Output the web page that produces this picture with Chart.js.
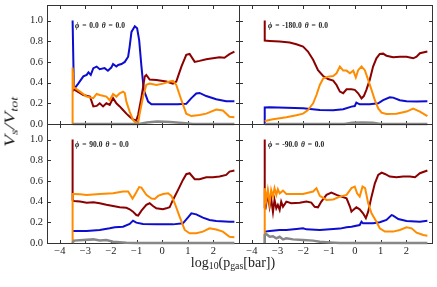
<!DOCTYPE html>
<html>
<head>
<meta charset="utf-8">
<script src="https://cdn.jsdelivr.net/npm/chart.js@4.4.1/dist/chart.umd.min.js"></script>
<style>
  body { margin: 0; background: #fff; }
  #wrap { position: relative; width: 437px; height: 287px; overflow: hidden; font-family: "Liberation Serif", serif; color: #222; }
  canvas { position: absolute; left: 0; top: 0; }
  .ann { position: absolute; font-size: 7.5px; font-weight: bold; line-height: 1; white-space: nowrap; word-spacing: 1px; }
  #xlab { position: absolute; left: 133px; width: 200px; top: 256px; text-align: center; font-size: 14px; line-height: 1; }
  #ylab { position: absolute; left: -40px; width: 100px; top: 111px; height: 22px; text-align: center; font-size: 20px; font-style: italic; line-height: 22px; transform: rotate(-90deg) scale(1, 0.68); }
  sub { font-size: 70%; vertical-align: -0.25em; line-height: 0; }
</style>
</head>
<body>
<div id="wrap">
  <canvas id="c0" width="437" height="287"></canvas>
  <canvas id="c1" width="437" height="287"></canvas>
  <canvas id="c2" width="437" height="287"></canvas>
  <canvas id="c3" width="437" height="287"></canvas>
  <div id="xlab">log<sub>10</sub>(p<sub>gas</sub>[bar])</div>
  <div id="ylab">V<sub>s</sub>/V<sub>tot</sub></div>
</div>
<script>
// panel labels
const phiLabels = ["0.0", "-180.0", "90.0", "-90.0"];
const thetaLabels = ["0.0", "0.0", "0.0", "0.0"];

// ticks
const xTicks = [-4, -3, -2, -1, 0, 1, 2];
const yTicks = [0, 0.2, 0.4, 0.6, 0.8, 1.0];

// top left: phi = 0
const tlBlueX = [-3.5, -3.45, -3.28, -3.08, -2.95, -2.88, -2.79, -2.69, -2.56, -2.44, -2.25, -2.12, -1.99, -1.92, -1.79, -1.72, -1.59, -1.46, -1.33, -1.27, -1.2, -1.07, -0.98, -0.9, -0.81, -0.72, -0.55, -0.42, 0.03, 0.6, 0.94, 1.14, 1.33, 1.46, 1.72, 2.11, 2.5, 2.82];
const tlBlueY = [1.0, 0.335, 0.39, 0.46, 0.475, 0.5, 0.475, 0.54, 0.555, 0.53, 0.54, 0.515, 0.545, 0.58, 0.555, 0.57, 0.58, 0.6, 0.65, 0.75, 0.89, 0.945, 0.925, 0.81, 0.555, 0.33, 0.216, 0.19, 0.19, 0.19, 0.195, 0.25, 0.295, 0.3, 0.27, 0.24, 0.22, 0.22];
const tlRedX = [-3.5, -3.45, -3.08, -2.82, -2.69, -2.56, -2.44, -2.31, -2.18, -2.05, -1.92, -1.79, -1.66, -1.53, -1.4, -1.27, -1.14, -1.01, -0.94, -0.81, -0.68, -0.62, -0.49, -0.23, 0.16, 0.42, 0.55, 0.75, 0.94, 1.07, 1.27, 1.46, 1.72, 1.98, 2.24, 2.43, 2.63, 2.82];
const tlRedY = [0.34, 0.335, 0.28, 0.265, 0.17, 0.175, 0.2, 0.17, 0.2, 0.185, 0.25, 0.2, 0.17, 0.135, 0.1, 0.07, 0.045, 0.035, 0.09, 0.26, 0.46, 0.474, 0.43, 0.425, 0.41, 0.39, 0.41, 0.555, 0.668, 0.677, 0.6, 0.61, 0.626, 0.635, 0.645, 0.64, 0.675, 0.7];
const tlOrangeX = [-3.5, -3.5, -3.45, -3.21, -2.95, -2.69, -2.56, -2.44, -2.18, -2.05, -1.92, -1.79, -1.66, -1.53, -1.46, -1.4, -1.27, -1.14, -1.01, -0.94, -0.88, -0.75, -0.62, -0.49, -0.23, 0.03, 0.29, 0.42, 0.55, 0.75, 0.94, 1.14, 1.46, 1.72, 2.11, 2.37, 2.63, 2.82];
const tlOrangeY = [0, 0.545, 0.355, 0.313, 0.265, 0.25, 0.29, 0.28, 0.265, 0.23, 0.29, 0.265, 0.297, 0.313, 0.3, 0.216, 0.12, 0.04, 0.006, 0.01, 0.1, 0.26, 0.38, 0.39, 0.377, 0.39, 0.41, 0.416, 0.377, 0.23, 0.1, 0.077, 0.087, 0.1, 0.14, 0.13, 0.07, 0.065];
const tlGrayX = [-3.5, -0.9, -0.6, -0.2, 0.3, 0.8, 1.2, 2.82];
const tlGrayY = [0, 0, 0.015, 0.025, 0.02, 0.01, 0, 0];

// top right: phi = -180
const trBlueX = [-3.5, -3.5, -3.31, -2.66, -2.01, -1.36, -0.84, -0.45, -0.13, 0.0, 0.06, 0.19, 0.58, 0.91, 1.1, 1.36, 1.49, 1.75, 2.01, 2.4, 2.82];
const trBlueY = [0, 0.16, 0.161, 0.158, 0.152, 0.135, 0.132, 0.142, 0.168, 0.174, 0.206, 0.19, 0.19, 0.2, 0.23, 0.258, 0.255, 0.23, 0.22, 0.218, 0.22];
const trRedX = [-3.5, -3.5, -3.31, -2.92, -2.53, -2.27, -2.01, -1.82, -1.62, -1.43, -1.23, -1.04, -0.84, -0.71, -0.58, -0.45, -0.32, -0.13, 0.0, 0.13, 0.26, 0.35, 0.45, 0.58, 0.71, 0.84, 0.97, 1.1, 1.23, 1.49, 1.75, 2.01, 2.27, 2.4, 2.53, 2.82];
const trRedY = [1.0, 0.806, 0.803, 0.797, 0.787, 0.77, 0.748, 0.7, 0.62, 0.52, 0.464, 0.435, 0.42, 0.377, 0.313, 0.297, 0.335, 0.335, 0.33, 0.297, 0.248, 0.27, 0.33, 0.426, 0.555, 0.635, 0.677, 0.68, 0.66, 0.645, 0.65, 0.65, 0.635, 0.65, 0.684, 0.7];
const trOrangeX = [-3.5, -3.18, -2.66, -2.27, -2.01, -1.82, -1.62, -1.49, -1.36, -1.23, -1.04, -0.84, -0.71, -0.58, -0.45, -0.32, -0.19, -0.06, 0.04, 0.13, 0.26, 0.39, 0.52, 0.65, 0.78, 0.91, 1.04, 1.23, 1.62, 2.01, 2.27, 2.53, 2.82];
const trOrangeY = [0.03, 0.045, 0.065, 0.084, 0.1, 0.135, 0.2, 0.28, 0.377, 0.44, 0.458, 0.464, 0.49, 0.555, 0.516, 0.516, 0.49, 0.516, 0.45, 0.52, 0.555, 0.52, 0.426, 0.33, 0.23, 0.15, 0.11, 0.097, 0.1, 0.12, 0.148, 0.12, 0.077];
const trGrayX = [-3.5, -0.4, -0.1, 0.3, 0.7, 1.0, 2.82];
const trGrayY = [0, 0, 0.012, 0.015, 0.012, 0, 0];

// bottom left: phi = 90
const blBlueX = [-3.5, -2.95, -2.44, -2.05, -1.85, -1.53, -1.27, -1.14, -1.01, -0.75, -0.23, 0.42, 0.81, 1.01, 1.14, 1.33, 1.59, 1.85, 2.11, 2.63, 2.82];
const blBlueY = [0.116, 0.116, 0.126, 0.142, 0.152, 0.158, 0.184, 0.216, 0.197, 0.184, 0.18, 0.18, 0.19, 0.248, 0.287, 0.277, 0.245, 0.223, 0.213, 0.206, 0.205];
const blRedX = [-3.5, -3.5, -3.45, -3.21, -2.95, -2.69, -2.44, -2.18, -1.92, -1.66, -1.4, -1.27, -1.14, -1.01, -0.94, -0.81, -0.62, -0.49, -0.36, -0.23, 0.03, 0.16, 0.29, 0.42, 0.62, 0.81, 0.94, 1.07, 1.27, 1.46, 1.72, 1.98, 2.24, 2.5, 2.63, 2.82];
const blRedY = [1.0, 0.416, 0.406, 0.4, 0.39, 0.393, 0.384, 0.37, 0.358, 0.345, 0.34, 0.326, 0.303, 0.27, 0.265, 0.313, 0.368, 0.384, 0.358, 0.335, 0.326, 0.335, 0.345, 0.416, 0.513, 0.61, 0.665, 0.674, 0.616, 0.616, 0.635, 0.635, 0.642, 0.658, 0.69, 0.7];
const blOrangeX = [-3.5, -3.5, -3.45, -3.21, -2.95, -2.44, -1.92, -1.53, -1.33, -1.16, -1.07, -0.9, -0.81, -0.62, -0.42, -0.29, -0.16, 0.03, 0.23, 0.36, 0.49, 0.68, 0.88, 1.07, 1.33, 1.59, 1.85, 2.11, 2.37, 2.63, 2.82];
const blOrangeY = [0, 0.474, 0.474, 0.47, 0.465, 0.474, 0.48, 0.497, 0.497, 0.43, 0.465, 0.54, 0.535, 0.465, 0.43, 0.426, 0.455, 0.474, 0.48, 0.455, 0.384, 0.255, 0.126, 0.094, 0.094, 0.11, 0.142, 0.13, 0.11, 0.06, 0.055];
const blGrayX = [-3.5, -3.45, -3.08, -2.69, -2.44, -2.18, -1.92, -1.4, -1.0, 2.82];
const blGrayY = [0, 0.023, 0.03, 0.035, 0.025, 0.028, 0.013, 0.003, 0, 0];

// bottom right: phi = -90
const brBlueX = [-3.5, -3.31, -2.92, -2.66, -2.27, -2.01, -1.88, -1.36, -0.97, -0.58, -0.32, -0.13, 0.19, 0.26, 0.32, 0.71, 0.97, 1.23, 1.43, 1.49, 1.69, 2.01, 2.53, 2.82];
const brBlueY = [0.11, 0.116, 0.126, 0.126, 0.135, 0.142, 0.132, 0.126, 0.132, 0.139, 0.152, 0.158, 0.174, 0.206, 0.19, 0.19, 0.2, 0.223, 0.27, 0.265, 0.232, 0.213, 0.206, 0.216];
const brRedX = [-3.5, -3.5, -3.47, -3.38, -3.31, -3.25, -3.18, -3.12, -3.05, -2.99, -2.92, -2.86, -2.79, -2.66, -2.47, -2.14, -1.88, -1.69, -1.56, -1.43, -1.3, -1.1, -0.91, -0.71, -0.52, -0.32, -0.19, -0.13, -0.06, 0.06, 0.19, 0.32, 0.43, 0.52, 0.65, 0.78, 0.91, 1.04, 1.17, 1.36, 1.62, 1.88, 2.14, 2.34, 2.53, 2.82];
const brRedY = [1.0, 0.34, 0.335, 0.48, 0.35, 0.43, 0.3, 0.416, 0.335, 0.368, 0.32, 0.4, 0.35, 0.4, 0.384, 0.39, 0.4, 0.39, 0.35, 0.345, 0.4, 0.465, 0.487, 0.465, 0.448, 0.432, 0.352, 0.303, 0.32, 0.345, 0.326, 0.287, 0.24, 0.303, 0.448, 0.577, 0.658, 0.68, 0.667, 0.642, 0.635, 0.642, 0.642, 0.635, 0.674, 0.7];
const brOrangeX = [-3.5, -3.5, -3.44, -3.38, -3.31, -3.25, -3.18, -3.12, -3.05, -2.99, -2.92, -2.79, -2.66, -2.4, -2.01, -1.62, -1.49, -1.36, -1.1, -0.84, -0.58, -0.32, -0.13, 0.0, 0.09, 0.19, 0.3, 0.4, 0.52, 0.65, 0.84, 0.97, 1.17, 1.49, 1.75, 2.01, 2.21, 2.4, 2.66, 2.82];
const brOrangeY = [0, 0.53, 0.416, 0.513, 0.384, 0.513, 0.45, 0.53, 0.465, 0.52, 0.48, 0.506, 0.474, 0.474, 0.474, 0.497, 0.53, 0.455, 0.416, 0.42, 0.448, 0.465, 0.53, 0.545, 0.48, 0.448, 0.545, 0.53, 0.384, 0.287, 0.206, 0.142, 0.11, 0.11, 0.126, 0.152, 0.142, 0.1, 0.077, 0.07];
const brGrayX = [-3.5, -3.5, -3.44, -3.31, -3.18, -3.05, -2.92, -2.79, -2.66, -2.4, -2.01, -1.62, -1.36, -0.97, -0.58, 2.82];
const brGrayY = [0, 0.077, 0.087, 0.06, 0.065, 0.045, 0.06, 0.035, 0.045, 0.035, 0.03, 0.023, 0.013, 0.006, 0, 0];

const W = 437, H = 287;
const textColor = "#222";
const tickFont = { family: "Liberation Serif", size: 10.5 };

const pts = (xs, ys) => xs.map((x, i) => ({ x: x, y: ys[i] }));
const minus = (v) => (v < 0 ? "\u2212" + Math.abs(v) : String(v));

// fixed axis size, no extra padding from the labels
const sizeTo = (n) => (s) => {
  if (s.isHorizontal()) s.height = n;
  else s.width = n;
  s.paddingTop = 0;
  s.paddingBottom = 0;
  s.paddingLeft = 0;
  s.paddingRight = 0;
};

// only the listed tick values
const useTicks = (vals) => (s) => {
  s.ticks = vals.map((v) => ({ value: v }));
};

// frame + inward ticks on all four sides
const frame = {
  id: "frame",
  beforeDatasetsDraw(chart) {
    const { ctx, chartArea: a, scales } = chart;
    const l = Math.round(a.left) + 0.5, r = Math.round(a.right) + 0.5;
    const t = Math.round(a.top) + 0.5, b = Math.round(a.bottom) + 0.5;
    const len = 3.5;
    ctx.save();
    ctx.strokeStyle = "#333";
    ctx.lineWidth = 1;
    ctx.strokeRect(l, t, r - l, b - t);
    ctx.beginPath();
    scales.x.ticks.forEach((tk) => {
      const px = Math.round(scales.x.getPixelForValue(tk.value)) + 0.5;
      ctx.moveTo(px, b); ctx.lineTo(px, b - len);
      ctx.moveTo(px, t); ctx.lineTo(px, t + len);
    });
    scales.y.ticks.forEach((tk) => {
      const py = Math.round(scales.y.getPixelForValue(tk.value)) + 0.5;
      ctx.moveTo(l, py); ctx.lineTo(l + len, py);
      ctx.moveTo(r, py); ctx.lineTo(r - len, py);
    });
    ctx.stroke();
    ctx.restore();
  },
};

const panels = [
  { box: [47, 5, 239, 124], showX: false, showY: true, blue: [tlBlueX, tlBlueY], red: [tlRedX, tlRedY], orange: [tlOrangeX, tlOrangeY], gray: [tlGrayX, tlGrayY] },
  { box: [239, 5, 432, 124], showX: false, showY: false, blue: [trBlueX, trBlueY], red: [trRedX, trRedY], orange: [trOrangeX, trOrangeY], gray: [trGrayX, trGrayY] },
  { box: [47, 124, 239, 243], showX: true, showY: true, blue: [blBlueX, blBlueY], red: [blRedX, blRedY], orange: [blOrangeX, blOrangeY], gray: [blGrayX, blGrayY] },
  { box: [239, 124, 432, 243], showX: true, showY: false, blue: [brBlueX, brBlueY], red: [brRedX, brRedY], orange: [brOrangeX, brOrangeY], gray: [brGrayX, brGrayY] },
];

const line = (d, color, width, order) => ({
  data: pts(d[0], d[1]),
  borderColor: color,
  borderWidth: width,
  pointRadius: 0,
  tension: 0,
  clip: false,
  order: order,
});

panels.forEach((p, i) => {
  const [l, t, r, b] = p.box;
  // the label side gets a real axis box, else plain padding
  const yW = p.showY ? l : 0;
  const xH = p.showX ? H - b : 0;
  new Chart(document.getElementById("c" + i), {
    type: "line",
    data: {
      datasets: [
        line(p.blue, "#0d0dcf", 2, 4),
        line(p.red, "#8b0000", 2, 3),
        line(p.orange, "#ff8c00", 2, 2),
        line(p.gray, "#888888", 2.5, 1),
      ],
    },
    options: {
      responsive: false,
      animation: false,
      devicePixelRatio: 1,
      layout: { padding: { left: l - yW, top: t, right: W - r, bottom: H - b - xH } },
      plugins: { legend: { display: false }, tooltip: { enabled: false } },
      scales: {
        x: {
          type: "linear",
          min: -4.5,
          max: 3,
          afterBuildTicks: useTicks(xTicks),
          afterFit: sizeTo(xH),
          grid: { display: false, drawTicks: false },
          border: { display: false },
          ticks: {
            display: p.showX, autoSkip: false,
            padding: 2, color: textColor, font: tickFont, maxRotation: 0,
            callback: minus,
          },
        },
        y: {
          type: "linear",
          min: 0,
          max: 1.15,
          afterBuildTicks: useTicks(yTicks),
          afterFit: sizeTo(yW),
          grid: { display: false, drawTicks: false },
          border: { display: false },
          ticks: {
            display: p.showY, autoSkip: false,
            padding: 4, color: textColor, font: tickFont,
            callback: (v) => v.toFixed(1),
          },
        },
      },
    },
    plugins: [frame],
  });

  // panel annotation
  const ann = document.createElement("div");
  ann.className = "ann";
  ann.style.left = (i % 2 === 0 ? 75 : 268) + "px";
  ann.style.top = (i < 2 ? 22 : 141) + "px";
  ann.innerHTML = "<i>\u03d5</i> = " + phiLabels[i] + " <i>\u03b8</i> = " + thetaLabels[i];
  document.getElementById("wrap").appendChild(ann);
});
</script>
</body>
</html>
